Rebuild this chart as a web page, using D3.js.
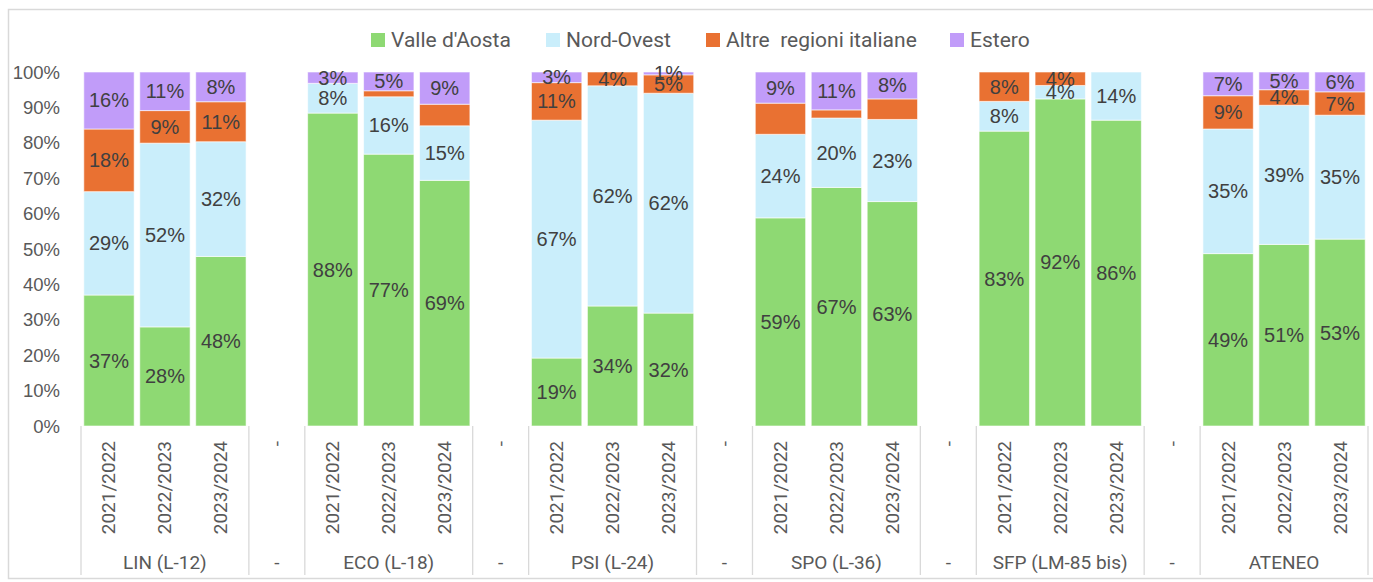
<!DOCTYPE html>
<html>
<head>
<meta charset="utf-8">
<script src="https://cdn.jsdelivr.net/npm/d3@7"></script>
<style>
  body { margin: 0; background: #fff; }
  svg { display: block; }
</style>
</head>
<body>
<svg id="chart" width="1373" height="582"></svg>
<script>
// dati (percentuali)
var gruppi = ["LIN (L-12)", "-", "ECO (L-18)", "-", "PSI (L-24)", "-", "SPO (L-36)", "-", "SFP (LM-85 bis)", "-", "ATENEO"];
var anni = ["2021/2022", "2022/2023", "2023/2024"];
var serie = ["Valle d'Aosta", "Nord-Ovest", "Altre  regioni italiane", "Estero"];
var colori = ["#8ED973", "#CAEEFB", "#E97132", "#C19CF9"];

// una voce per ogni barra (6 gruppi x 3 anni)
var valleAosta   = [37.0, 28.0, 47.9, 88.4, 76.8, 69.4, 19.2, 33.9, 31.9, 58.8, 67.4, 63.4, 83.3, 92.4, 86.4, 48.7, 51.3, 52.8];
var nordOvest    = [29.2, 51.9, 32.4,  8.4, 16.2, 15.4, 67.2, 62.2, 62.1, 23.6, 19.6, 23.2,  8.4,  3.8, 13.6, 35.2, 39.3, 35.0];
var altreRegioni = [17.7,  9.2, 11.3,  0.0,  1.7,  6.1, 10.6,  3.9,  5.2,  8.8,  2.3,  5.8,  8.3,  3.8,  0.0,  9.4,  4.4,  6.6];
var estero       = [16.1, 10.9,  8.4,  3.2,  5.3,  9.1,  3.0,  0.0,  0.8,  8.8, 10.7,  7.6,  0.0,  0.0,  0.0,  6.7,  5.0,  5.6];

// gruppi dove le etichette di una serie sono state tolte
var etichetteNascoste = { "ECO (L-18)": [2], "SPO (L-36)": [2] };

var yTicks = [0, 0.1, 0.2, 0.3, 0.4, 0.5, 0.6, 0.7, 0.8, 0.9, 1];

var svg = d3.select("#chart");

// cornice del grafico
svg.append("rect")
  .attr("x", 8.5).attr("y", 9.5)
  .attr("width", 1370).attr("height", 569)
  .attr("fill", "none")
  .attr("stroke", "#d9d9d9")
  .attr("stroke-width", 1.5);

// categorie: anni dentro i gruppi, un trattino tra i gruppi
var categorie = [];
var barre = [];
var k = 0;
gruppi.forEach(function (g, gi) {
  if (g == "-") {
    categorie.push({ key: "sep" + gi, gruppo: g, anno: "-", barra: null });
  } else {
    anni.forEach(function (a) {
      var c = { key: g + "|" + a, gruppo: g, anno: a, barra: k };
      categorie.push(c);
      barre.push(c);
      k++;
    });
  }
});

var valori = [valleAosta, nordOvest, altreRegioni, estero];

var x = d3.scaleBand()
  .domain(categorie.map(function (c) { return c.key; }))
  .range([81, 1368])
  .paddingInner(0.1)
  .paddingOuter(0.05);

var y = d3.scaleLinear().domain([0, 1]).range([426, 72]);

// asse y
svg.append("g")
  .selectAll("text")
  .data(yTicks)
  .enter()
  .append("text")
  .attr("x", 60)
  .attr("y", function (d) { return y(d); })
  .attr("text-anchor", "end")
  .attr("dominant-baseline", "central")
  .style("font-family", "'Liberation Sans', Arial, sans-serif")
  .style("font-size", "18.5px")
  .style("fill", "#595959")
  .text(d3.format(".0%"));

// barre impilate
barre.forEach(function (c) {
  var base = 0;
  valori.forEach(function (serieVal, si) {
    var v = serieVal[c.barra] / 100;
    var y0 = base, y1 = base + v;
    base = y1;
    if (v <= 0) return;
    svg.append("rect")
      .attr("x", x(c.key))
      .attr("y", y(y1))
      .attr("width", x.bandwidth())
      .attr("height", y(y0) - y(y1))
      .attr("fill", colori[si])
      .attr("stroke", "#ffffff")
      .attr("stroke-opacity", 0.6)
      .attr("stroke-width", 1);
  });
});

// etichette dei dati
barre.forEach(function (c) {
  var base = 0;
  valori.forEach(function (serieVal, si) {
    var v = serieVal[c.barra] / 100;
    var y0 = base, y1 = base + v;
    base = y1;
    if (v <= 0) return;
    var nascoste = etichetteNascoste[c.gruppo] || [];
    if (nascoste.indexOf(si) >= 0) return;
    svg.append("text")
      .attr("x", x(c.key) + x.bandwidth() / 2)
      .attr("y", (y(y0) + y(y1)) / 2)
      .attr("text-anchor", "middle")
      .attr("dominant-baseline", "central")
      .style("font-family", "'Liberation Sans', Arial, sans-serif")
      .style("font-size", "20px")
      .style("fill", "#404040")
      .text(Math.round(serieVal[c.barra]) + "%");
  });
});

// asse x a due livelli
var step = x.step();
var assi = svg.append("g");

var confini = [];
categorie.forEach(function (c, i) {
  var prec = categorie[i - 1];
  if (i == 0 || prec.gruppo != c.gruppo || c.gruppo == "-") {
    confini.push(x(c.key) - step * x.paddingInner() / 2);
  }
});
confini.push(x.range()[1]);

assi.selectAll("line")
  .data(confini)
  .enter()
  .append("line")
  .attr("x1", function (d) { return d; })
  .attr("x2", function (d) { return d; })
  .attr("y1", 426)
  .attr("y2", 575)
  .attr("stroke", "#d9d9d9")
  .attr("stroke-width", 1.3);

assi.selectAll("text.anno")
  .data(categorie)
  .enter()
  .append("text")
  .attr("class", "anno")
  .attr("transform", function (c) {
    return "translate(" + (x(c.key) + x.bandwidth() / 2) + ",441) rotate(-90)";
  })
  .attr("text-anchor", "end")
  .attr("dominant-baseline", "central")
  .style("font-family", "Roboto, sans-serif")
  .style("font-size", "19px")
  .style("fill", "#595959")
  .text(function (c) { return c.anno; });

var etichetteGruppi = [];
categorie.forEach(function (c) {
  var ultimo = etichetteGruppi[etichetteGruppi.length - 1];
  if (ultimo && ultimo.gruppo == c.gruppo && c.gruppo != "-") {
    ultimo.fine = x(c.key) + x.bandwidth();
  } else {
    etichetteGruppi.push({ gruppo: c.gruppo, inizio: x(c.key), fine: x(c.key) + x.bandwidth() });
  }
});

assi.selectAll("text.gruppo")
  .data(etichetteGruppi)
  .enter()
  .append("text")
  .attr("class", "gruppo")
  .attr("x", function (d) { return (d.inizio + d.fine) / 2; })
  .attr("y", 562)
  .attr("text-anchor", "middle")
  .attr("dominant-baseline", "central")
  .style("font-family", "Roboto, sans-serif")
  .style("font-size", "19px")
  .style("fill", "#595959")
  .text(function (d) { return d.gruppo; });

// legenda
var posLegenda = [371, 546, 706, 950];
var legenda = svg.append("g");
serie.forEach(function (s, i) {
  legenda.append("rect")
    .attr("x", posLegenda[i])
    .attr("y", 33)
    .attr("width", 14)
    .attr("height", 14)
    .attr("fill", colori[i]);
  legenda.append("text")
    .attr("x", posLegenda[i] + 20)
    .attr("y", 40)
    .attr("dominant-baseline", "central")
    .style("font-family", "Roboto, sans-serif")
    .style("font-size", "21px")
    .style("white-space", "pre")
    .style("fill", "#595959")
    .text(s);
});
</script>
</body>
</html>
